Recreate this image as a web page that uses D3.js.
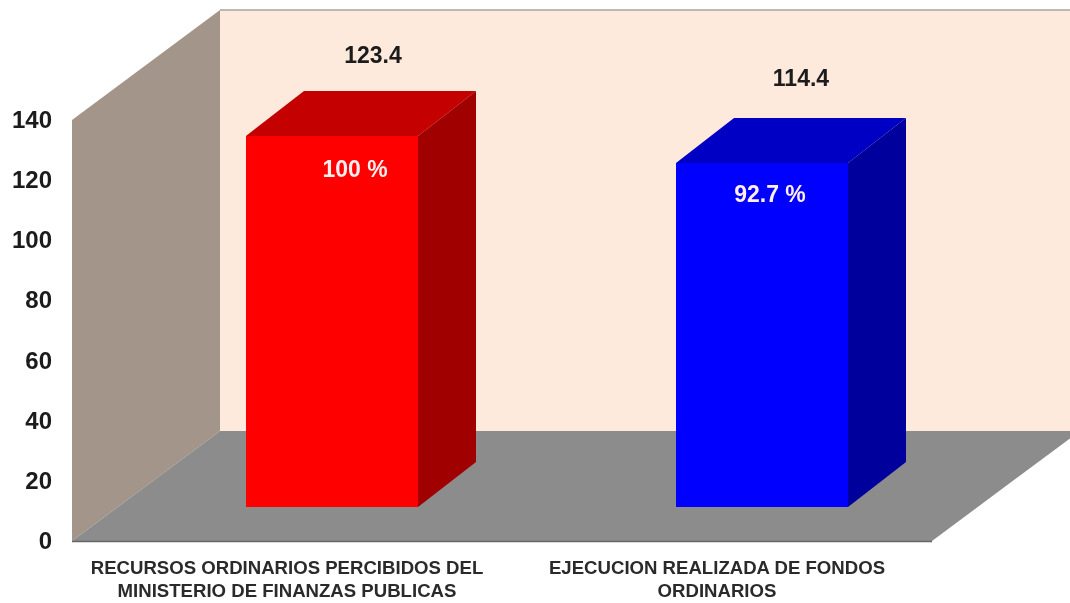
<!DOCTYPE html>
<html><head><meta charset="utf-8">
<script src="https://cdnjs.cloudflare.com/ajax/libs/d3/7.8.5/d3.min.js"></script>
<style>html,body{margin:0;padding:0;background:#fff}svg{display:block}text{font-family:"Liberation Sans",Arial,sans-serif}</style>
</head><body><svg id="c" width="1070" height="603"></svg>
<script>
const categories=[["RECURSOS ORDINARIOS PERCIBIDOS DEL","MINISTERIO DE FINANZAS PUBLICAS"],["EJECUCION REALIZADA DE FONDOS","ORDINARIOS"]];
const values=[123.4,114.4];
const percents=["100 %","92.7 %"];
const yTicks=[0,20,40,60,80,100,120,140];
const palette=[{front:"#ff0000",top:"#c40000",side:"#a00000"},{front:"#0000ff",top:"#0000c4",side:"#00009c"}];

const W=1070,H=603;
const plot={l:72,r:932,b:541,t:120};
const depth={dx:148,dy:-110};
const barDepth={dx:58,dy:-45};
const barLift={dx:45,dy:-34};
const valueOffset=[{dx:41,dy:-73},{dx:39,dy:-77}];
const percentOffset=[{dx:23,dy:41},{dx:8,dy:39}];
const svg=d3.select("#c");
const defs=svg.append("defs");
defs.append("filter").attr("id","soft").attr("x","-5%").attr("y","-5%").attr("width","110%").attr("height","110%")
  .append("feGaussianBlur").attr("stdDeviation",0.7);
const root=svg.append("g").attr("filter","url(#soft)");

const y=d3.scaleLinear().domain([0,140]).range([plot.b,plot.t]);
const x=d3.scaleBand().domain(d3.range(categories.length)).range([plot.l,plot.r]).paddingInner(0.6).paddingOuter(0.3);
const poly=(pts,fill)=>root.append("polygon").attr("points",pts.map(p=>p.join(",")).join(" ")).attr("fill",fill);

const yB=y(0),yT=y(140),xL=plot.l,xR=plot.r;
poly([[xL+depth.dx,yT+depth.dy],[xR+depth.dx,yT+depth.dy],[xR+depth.dx,yB+depth.dy],[xL+depth.dx,yB+depth.dy]],"#fdeadc");
root.append("line").attr("x1",xL+depth.dx).attr("x2",W).attr("y1",yT+depth.dy).attr("y2",yT+depth.dy).attr("stroke","#a8a39c").attr("stroke-width",1.5);
poly([[xL,yB],[xL,yT],[xL+depth.dx,yT+depth.dy],[xL+depth.dx,yB+depth.dy]],"#a39589");
poly([[xL,yB],[xR,yB],[xR+depth.dx,yB+depth.dy],[xL+depth.dx,yB+depth.dy]],"#8c8c8c");
root.append("line").attr("x1",xL).attr("x2",xR).attr("y1",yB+0.5).attr("y2",yB+0.5).attr("stroke","#666").attr("stroke-width",1.5);

values.forEach((v,i)=>{
  const x0=x(i)+barLift.dx,x1=x0+x.bandwidth();
  const b=y(0)+barLift.dy,t=b-(y(0)-y(v));
  const c=palette[i];
  poly([[x0,t],[x1,t],[x1+barDepth.dx,t+barDepth.dy],[x0+barDepth.dx,t+barDepth.dy]],c.top);
  poly([[x1,t],[x1+barDepth.dx,t+barDepth.dy],[x1+barDepth.dx,b+barDepth.dy],[x1,b]],c.side);
  poly([[x0,t],[x1,t],[x1,b],[x0,b]],c.front);
  const cx=(x0+x1)/2;
  root.append("text").attr("x",cx+valueOffset[i].dx).attr("y",t+valueOffset[i].dy).attr("text-anchor","middle").attr("font-size",23).attr("font-weight","bold").attr("fill","#1a1a1a").text(d3.format(".1f")(v));
  root.append("text").attr("x",cx+percentOffset[i].dx).attr("y",t+percentOffset[i].dy).attr("text-anchor","middle").attr("font-size",23).attr("font-weight","bold").attr("fill","#ffeeee").text(percents[i]);
});

yTicks.forEach(t=>{
  root.append("text").attr("x",52).attr("y",y(t)+8).attr("text-anchor","end").attr("font-size",24).attr("font-weight","bold").attr("fill","#1a1a1a").text(t);
});

categories.forEach((lines,i)=>{
  const cx=[287,717][i];
  lines.forEach((s,j)=>root.append("text").attr("x",cx).attr("y",574+j*23).attr("text-anchor","middle").attr("font-size",18.6).attr("font-weight","bold").attr("fill","#2a2a2a").text(s));
});
</script></body></html>
